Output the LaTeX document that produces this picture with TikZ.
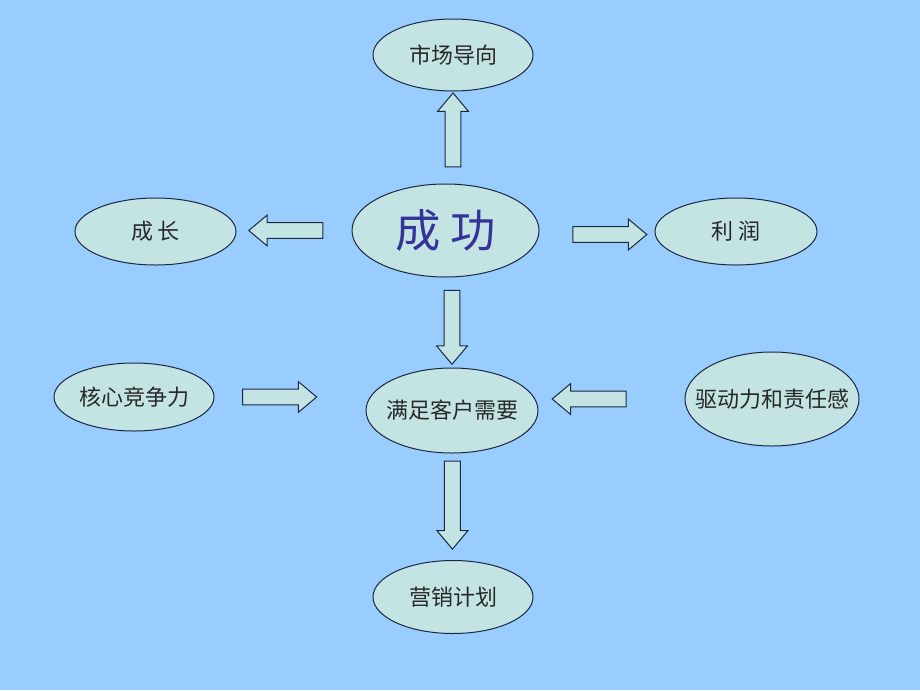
\documentclass[tikz,border=0pt]{standalone}
\usepackage{fontspec}
\newfontfamily\cjk{Noto Sans CJK SC}
\usetikzlibrary{shapes.geometric,shapes.arrows}

\definecolor{bgblue}{RGB}{153,204,255}
\definecolor{boxfill}{RGB}{196,228,228}
\definecolor{linec}{RGB}{28,40,64}
\definecolor{txtc}{RGB}{40,40,40}
\definecolor{bigtxt}{RGB}{51,51,153}

\tikzset{every picture/.style={line width=0.75pt},
  oval/.style={ellipse, draw=linec, fill=boxfill, inner xsep=-15pt, inner ysep=0pt, text=txtc, font=\cjk\fontsize{16.5}{18}\selectfont},
  blockarr/.style={single arrow, draw=linec, fill=boxfill, inner sep=5.6pt, single arrow head extend=5.6pt,
    single arrow tip angle=80, minimum height=55.5pt}
}

\begin{document}
\begin{tikzpicture}[x=0.75pt,y=0.75pt,yscale=-1,xscale=1]

\fill[bgblue] (0,0) rectangle (920,690);
\useasboundingbox (0,0) rectangle (920,690);

\node[oval, minimum width=120pt, minimum height=54pt] (shichang) at (453,55) {市场导向};
\node[oval, minimum width=120.75pt, minimum height=50.25pt] (chengzhang) at (155.5,231.5) {成 长};
\node[oval, minimum width=140.25pt, minimum height=69.75pt, text=bigtxt, font=\cjk\fontsize{34}{38}\selectfont] (chenggong) at (445.5,230.5) {\raisebox{-5pt}{成 功}};
\node[oval, minimum width=121.5pt, minimum height=50.25pt] (lirun) at (736,231.5) {利 润};
\node[oval, minimum width=120pt, minimum height=51pt] (hexin) at (134,397) {核心竞争力};
\node[oval, minimum width=129pt, minimum height=63.75pt] (manzu) at (452,410.5) {满足客户需要};
\node[oval, minimum width=130.5pt, minimum height=70.5pt] (qudong) at (772,399) {驱动力和责任感};
\node[oval, minimum width=120pt, minimum height=54.75pt] (yingxiao) at (453,597) {营销计划};

\path (shichang.south |- chenggong.north) -- (shichang.south) node[blockarr, pos=0.53, shape border rotate=90] (up) {};
\path (chenggong.west) -- (chenggong.west -| chengzhang.east) node[blockarr, pos=0.53, shape border rotate=180] (left) {};
\path (chenggong.east) -- (chenggong.east -| lirun.west) node[blockarr, pos=0.57, yshift=-3pt] (right) {};
\path (manzu.north |- chenggong.south) -- (manzu.north) node[blockarr, midway, shape border rotate=270] (down) {};
\path (hexin.east) -- (hexin.east -| manzu.west) node[blockarr, pos=0.40] (toman) {};
\path (qudong.west) -- (qudong.west -| manzu.east) node[blockarr, pos=0.62, shape border rotate=180] (fromqd) {};
\path (manzu.south) -- (yingxiao.north) node[blockarr, pos=0.44, minimum height=66pt, shape border rotate=270] (plan) {};

\end{tikzpicture}
\end{document}
